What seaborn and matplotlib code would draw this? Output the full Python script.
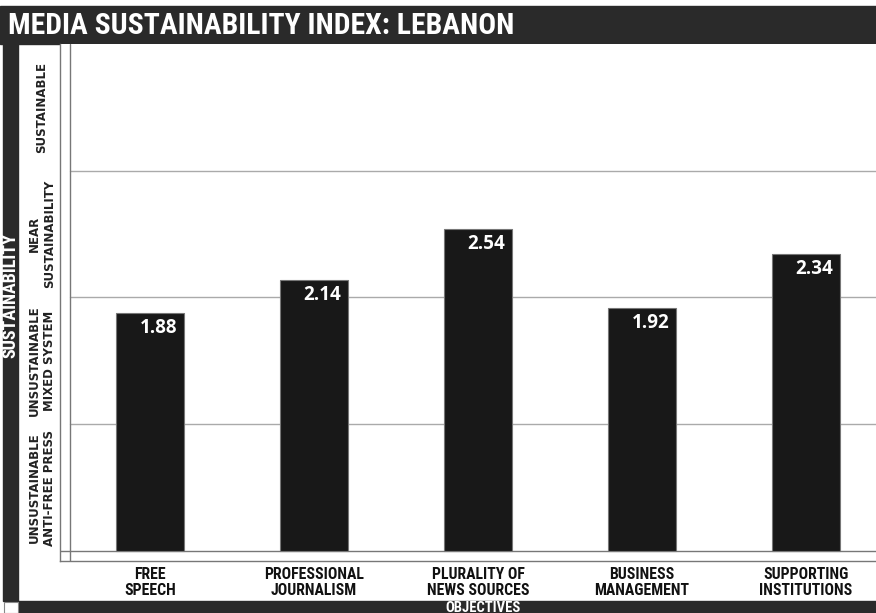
import matplotlib
matplotlib.use("Agg")
import matplotlib.pyplot as plt
from matplotlib.patches import Rectangle
from matplotlib import font_manager
import seaborn as sns
import pandas as pd

# dati
objectives = ["FREE\nSPEECH", "PROFESSIONAL\nJOURNALISM", "PLURALITY OF\nNEWS SOURCES",
              "BUSINESS\nMANAGEMENT", "SUPPORTING\nINSTITUTIONS"]
scores = [1.88, 2.14, 2.54, 1.92, 2.34]
levels = ["UNSUSTAINABLE\nANTI-FREE PRESS", "UNSUSTAINABLE\nMIXED SYSTEM",
          "NEAR\nSUSTAINABILITY", "SUSTAINABLE"]
level_mid = [0.5, 1.5, 2.5, 3.5]
title = "MEDIA SUSTAINABILITY INDEX: LEBANON"

sns.set_theme(style="white")
plt.rcParams["font.family"] = ["DejaVu Sans"]

# font condensato, se disponibile
names = {f.name for f in font_manager.fontManager.ttflist}
cond = font_manager.FontProperties(family="DejaVu Sans", stretch="condensed", weight="bold")
for cand in ["Liberation Sans Narrow", "Roboto Condensed", "Open Sans Condensed", "DejaVu Sans Condensed"]:
    if cand in names:
        cond = font_manager.FontProperties(family=cand, weight="bold")
        break

W, H = 876, 613
fig = plt.figure(figsize=(W / 100, H / 100), dpi=100)
fig.patch.set_facecolor("white")

# cornice nera
dark = "#2a2a2a"
fig.add_artist(Rectangle((0, 1 - 44 / H), 1, 38 / H, transform=fig.transFigure, color=dark, zorder=0))
fig.add_artist(Rectangle((3 / W, 12 / H), 15 / W, (601 - 44) / H, transform=fig.transFigure, color=dark, zorder=0))
fig.add_artist(Rectangle((18 / W, 0), 1, 12 / H, transform=fig.transFigure, color=dark, zorder=0))
fig.add_artist(Rectangle((3.5 / W, 0), 14 / W, 11.5 / H, transform=fig.transFigure,
                         facecolor="white", edgecolor="#888888", lw=0.8, zorder=0))

def ctext(x, y, s, size, **kw):
    fp = cond.copy()
    fp.set_size(size)
    return fig.text(x, y, s, fontproperties=fp, **kw)

ctext(8 / W, 1 - 26 / H, title, 21.3, color="white", va="center", ha="left")
ctext(10.5 / W, 1 - 295 / H, "SUSTAINABILITY", 13, color="white", rotation=90, va="center", ha="center")
ctext(483 / W, 1.5 / H, "OBJECTIVES", 10.5, color="white", va="baseline", ha="center")

ax = fig.add_axes([60 / W, 52 / H, 816 / W, 517 / H])
df = pd.DataFrame({"objective": objectives, "score": scores})
sns.barplot(data=df, x="objective", y="score", color="#181818", width=0.41,
            edgecolor="#777777", linewidth=0.8, saturation=1, ax=ax, zorder=3)

x0 = -0.549
x1 = x0 + 816 / 164
ax.set_xlim(x0, x1)
ax.set_ylim(-0.079, 4.0)

for s in ["top", "right"]:
    ax.spines[s].set_visible(False)
for s in ["left", "bottom"]:
    ax.spines[s].set_color("#777777")
    ax.spines[s].set_linewidth(1)

inner = 10 / 816
for g in [1, 2, 3]:
    ax.axhline(g, xmin=inner, color="#aaaaaa", lw=1, zorder=1)
ax.axhline(0, color="#777777", lw=1, zorder=2)
ax.axvline(x0 + 10 / 164, color="#777777", lw=1, zorder=2)

vfp = font_manager.FontProperties(family=["Open Sans", "DejaVu Sans"], weight="bold",
                                  stretch="normal", size=13.5)
for i, v in enumerate(scores):
    ax.text(i + 0.05, v - 0.04, f"{v:.2f}", color="white", fontproperties=vfp,
            ha="center", va="top", zorder=4)

ax.set_yticks([])
ax.set_xticks(range(len(objectives)))
xfp = cond.copy()
xfp.set_size(11.3)
ax.set_xticklabels(objectives, fontproperties=xfp, linespacing=1.15, color="#111111")
ax.tick_params(axis="x", length=0, pad=4)
ax.set_xlabel("")
ax.set_ylabel("")

for lab, m in zip(levels, level_mid):
    fig.text(42 / W, 1 - (551 - m * 126.7) / H, lab, rotation=90, fontsize=8.5,
             fontweight="bold", color="#222222", ha="center", va="center",
             linespacing=1.15, multialignment="center")

fig.savefig("out.png", dpi=100)
